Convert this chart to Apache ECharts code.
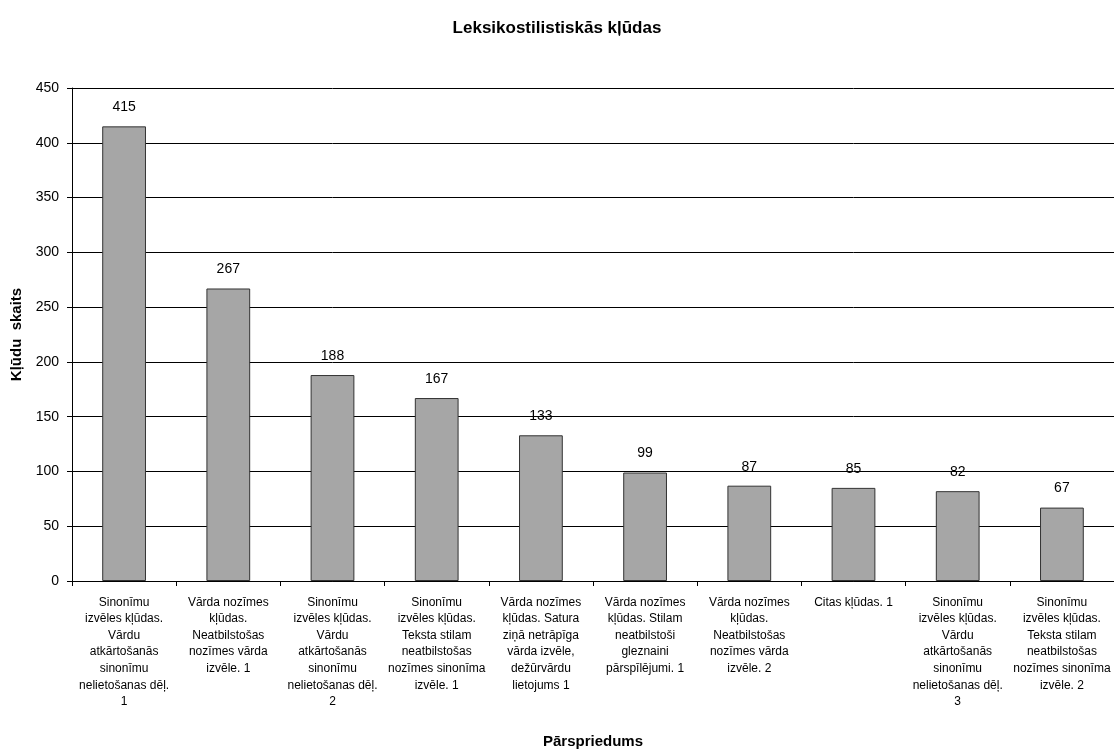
<!DOCTYPE html>
<html><head><meta charset="utf-8">
<script src="https://cdn.jsdelivr.net/npm/echarts@6/dist/echarts.min.js"></script>
<style>html,body{margin:0;padding:0;background:#fff}#c{width:1114px;height:751px}</style>
</head><body><div id="c"></div>
<script>
const categories = [
  "Sinonīmu\nizvēles kļūdas.\nVārdu\natkārtošanās\nsinonīmu\nnelietošanas dēļ.\n1",
  "Vārda nozīmes\nkļūdas.\nNeatbilstošas\nnozīmes vārda\nizvēle. 1",
  "Sinonīmu\nizvēles kļūdas.\nVārdu\natkārtošanās\nsinonīmu\nnelietošanas dēļ.\n2",
  "Sinonīmu\nizvēles kļūdas.\nTeksta stilam\nneatbilstošas\nnozīmes sinonīma\nizvēle. 1",
  "Vārda nozīmes\nkļūdas. Satura\nziņā netrāpīga\nvārda izvēle,\ndežūrvārdu\nlietojums 1",
  "Vārda nozīmes\nkļūdas. Stilam\nneatbilstoši\ngleznaini\npārspīlējumi. 1",
  "Vārda nozīmes\nkļūdas.\nNeatbilstošas\nnozīmes vārda\nizvēle. 2",
  "Citas kļūdas. 1",
  "Sinonīmu\nizvēles kļūdas.\nVārdu\natkārtošanās\nsinonīmu\nnelietošanas dēļ.\n3",
  "Sinonīmu\nizvēles kļūdas.\nTeksta stilam\nneatbilstošas\nnozīmes sinonīma\nizvēle. 2"
];
const values = [415, 267, 188, 167, 133, 99, 87, 85, 82, 67];
const title = "Leksikostilistiskās kļūdas";
const yName = "Kļūdu  skaits";
const xName = "Pārspriedums";

const font = "'Liberation Sans', Arial, sans-serif";
const chart = echarts.init(document.getElementById('c'));
chart.setOption({
  animation: false,
  backgroundColor: '#fff',
  textStyle: { fontFamily: font },
  title: {
    text: title, left: 'center', top: 15,
    textStyle: { fontFamily: font, fontSize: 17, fontWeight: 'bold', color: '#000' }
  },
  grid: { left: 72, top: 88, width: 1042, height: 493, containLabel: false, outerBoundsMode: 'none' },
  xAxis: {
    type: 'category', data: categories,
    name: xName, nameLocation: 'middle', nameGap: 153,
    nameTextStyle: { fontFamily: font, fontSize: 15, fontWeight: 'bold', color: '#000' },
    axisLine: { lineStyle: { color: '#000', width: 1 } },
    axisTick: { show: true, alignWithLabel: false, length: 5, lineStyle: { color: '#000' } },
    axisLabel: { interval: 0, color: '#000', fontSize: 12, lineHeight: 16.6, margin: 13, fontFamily: font, align: 'center' }
  },
  yAxis: {
    type: 'value', min: 0, max: 450, interval: 50,
    name: yName, nameLocation: 'middle', nameGap: 48, nameRotate: 90,
    nameTextStyle: { fontFamily: font, fontSize: 15, fontWeight: 'bold', color: '#000' },
    axisLine: { show: true, lineStyle: { color: '#000', width: 1 } },
    axisTick: { show: true, length: 5, lineStyle: { color: '#000' } },
    axisLabel: { color: '#000', fontSize: 14, margin: 13, fontFamily: font },
    splitLine: { show: true, lineStyle: { color: '#000', width: 1 } }
  },
  series: [{
    type: 'bar', data: values, barWidth: '42%',
    itemStyle: { color: '#a6a6a6', borderColor: '#333', borderWidth: 1 },
    label: { show: true, position: 'top', distance: 12, color: '#000', fontSize: 14, fontFamily: font }
  }]
});
</script></body></html>
